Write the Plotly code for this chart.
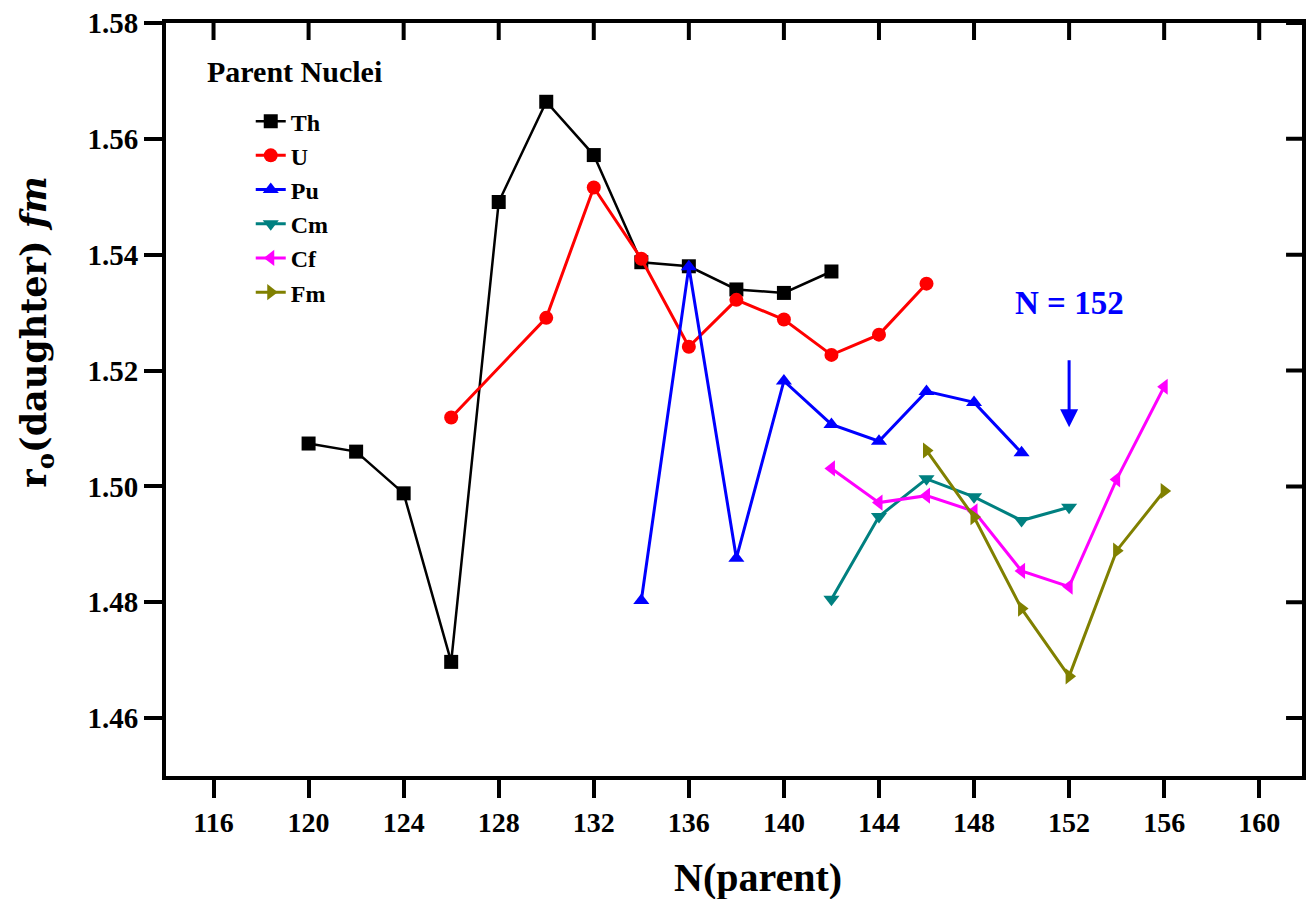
import plotly.graph_objects as go

# ---- data ----
th_n = [120, 122, 124, 126, 128, 130, 132, 134, 136, 138, 140, 142]
th_r = [1.5074, 1.5060, 1.4988, 1.4697, 1.5491, 1.5664, 1.5572, 1.5387, 1.5380, 1.5340, 1.5334, 1.5371]

u_n = [126, 130, 132, 134, 136, 138, 140, 142, 144, 146]
u_r = [1.5119, 1.5291, 1.5516, 1.5393, 1.5241, 1.5322, 1.5288, 1.5227, 1.5262, 1.5350]

pu_n = [134, 136, 138, 140, 142, 144, 146, 148, 150]
pu_r = [1.4803, 1.5379, 1.4876, 1.5182, 1.5107, 1.5078, 1.5164, 1.5145, 1.5058]

cm_n = [142, 144, 146, 148, 150, 152]
cm_r = [1.4805, 1.4948, 1.5013, 1.4982, 1.4941, 1.4964]

cf_n = [142, 144, 146, 148, 150, 152, 154, 156]
cf_r = [1.5031, 1.4972, 1.4984, 1.4957, 1.4854, 1.4827, 1.5012, 1.5172]

fm_n = [146, 148, 150, 152, 154, 156]
fm_r = [1.5062, 1.4947, 1.4789, 1.4672, 1.4889, 1.4992]

x_ticks = [116, 120, 124, 128, 132, 136, 140, 144, 148, 152, 156, 160]
y_ticks = [1.46, 1.48, 1.50, 1.52, 1.54, 1.56, 1.58]

series = [
    ("Th", th_n, th_r, "#000000", "square", 2.5),
    ("U", u_n, u_r, "#FF0000", "circle", 3),
    ("Pu", pu_n, pu_r, "#0000FF", "triangle-up", 3),
    ("Cm", cm_n, cm_r, "#008080", "triangle-down", 3),
    ("Cf", cf_n, cf_r, "#FF00FF", "triangle-left", 3),
    ("Fm", fm_n, fm_r, "#808000", "triangle-right", 3),
]

FONT = "Liberation Serif"
W, H = 1308, 899
ML, MR, MT, MB = 166, 2, 23, 123
PW, PH = W - ML - MR, H - MT - MB
X_RANGE = [114, 161.8]
Y_RANGE = [1.45, 1.58]

fig = go.Figure()
for name, xs, ys, col, sym, lw in series:
    fig.add_trace(go.Scatter(
        x=xs, y=ys, mode="lines+markers", name=name,
        line=dict(color=col, width=lw),
        marker=dict(symbol=sym, size=14, color=col),
    ))

axis_common = dict(
    showgrid=False, zeroline=False, showline=True, linewidth=4,
    linecolor="black", mirror=True, ticks="outside", ticklen=18,
    tickwidth=4, tickcolor="black",
)

fig.update_layout(
    width=W, height=H,
    margin=dict(l=ML, r=MR, t=MT, b=MB),
    plot_bgcolor="white", paper_bgcolor="white",
    font=dict(family=FONT, color="black"),
    xaxis=dict(
        range=X_RANGE, tickvals=x_ticks, ticktext=[str(v) for v in x_ticks],
        tickfont=dict(family=FONT, size=28, weight="bold"),
        **axis_common,
    ),
    yaxis=dict(
        range=Y_RANGE, tickvals=y_ticks, ticktext=[f"{v:.2f}" for v in y_ticks],
        tickfont=dict(family=FONT, size=29, weight="bold"),
        **axis_common,
    ),
    legend=dict(
        x=0.0746, y=0.899, xanchor="left", yanchor="top",
        bgcolor="rgba(0,0,0,0)", borderwidth=0,
        font=dict(family=FONT, size=24, weight="bold"),
        tracegroupgap=0,
    ),
    showlegend=True,
)

# inside ticks on the top and right frame edges (drawn as a path per edge)
top_path = " ".join(
    f"M{t},{Y_RANGE[1]} L{t},{Y_RANGE[1] - (Y_RANGE[1] - Y_RANGE[0]) * 17 / PH}"
    for t in x_ticks)
right_path = " ".join(
    f"M{X_RANGE[1]},{t} L{X_RANGE[1] - (X_RANGE[1] - X_RANGE[0]) * 16 / PW},{t}"
    for t in y_ticks)
for p in (top_path, right_path):
    fig.add_shape(type="path", path=p, xref="x", yref="y", layer="above",
                  line=dict(color="black", width=4))

# axis titles
fig.add_annotation(
    text="<b>N(parent)</b>", xref="paper", yref="paper", x=0.521, y=0,
    yshift=-101, xanchor="center", yanchor="middle", showarrow=False,
    font=dict(family=FONT, size=40, color="black"),
)
fig.add_annotation(
    text="<b>r<sub>o</sub>(daughter) <i>fm</i></b>", xref="paper", yref="paper",
    x=0, xshift=-130, y=0.590, xanchor="center", yanchor="middle",
    textangle=-90, showarrow=False,
    font=dict(family="DejaVu Serif", size=35, color="black"),
)

fig.add_annotation(
    text="<b>Parent Nuclei</b>", xref="paper", yref="paper",
    x=0.034, y=0.935, xanchor="left", yanchor="middle", showarrow=False,
    font=dict(family=FONT, size=30, color="black"),
)

fig.add_annotation(
    text="<b>N = 152</b>", xref="x", yref="y", axref="x", ayref="y",
    x=152, y=1.5102, ax=152, ay=1.5317,
    showarrow=True, arrowhead=2, arrowsize=1.2, arrowwidth=3, arrowcolor="#0000FF",
    startstandoff=38,
    font=dict(family=FONT, size=33, color="#0000FF"),
)

fig.write_html("out.html")
